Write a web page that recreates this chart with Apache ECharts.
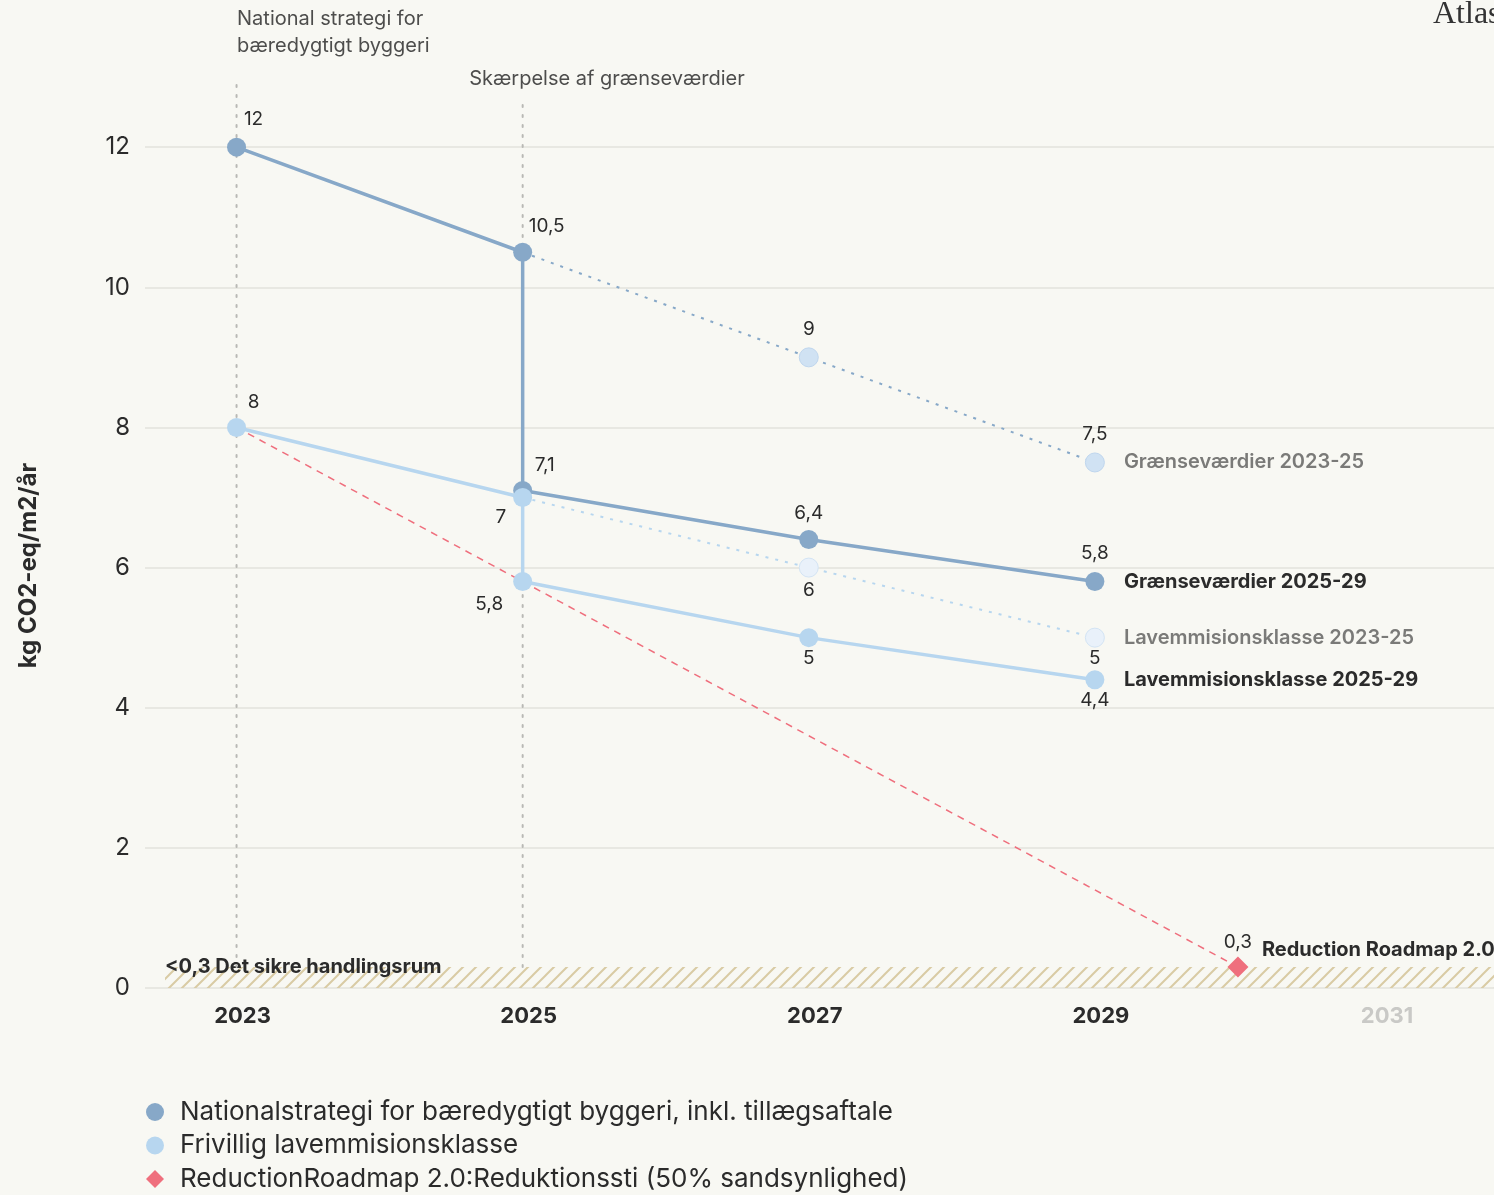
<!DOCTYPE html>
<html>
<head>
<meta charset="utf-8">
<script src="https://cdn.jsdelivr.net/npm/echarts@6/dist/echarts.min.js"></script>
<style>
html,body{margin:0;padding:0;background:#f8f8f3;}
#chart{width:1494px;height:1195px;}
</style>
</head>
<body>
<div id="chart"></div>
<script>
// ---------- DATA ----------
const xTickLabels = [2023, 2025, 2027, 2029, 2031];
const yTickValues = [0, 2, 4, 6, 8, 10, 12];

const nationalYears  = [2023, 2025, 2025, 2027, 2029];
const nationalValues = [12, 10.5, 7.1, 6.4, 5.8];

const graense2325Years  = [2025, 2027, 2029];
const graense2325Values = [10.5, 9, 7.5];

const frivilligYears  = [2023, 2025, 2025, 2027, 2029];
const frivilligValues = [8, 7, 5.8, 5, 4.4];

const lav2325Years  = [2025, 2027, 2029];
const lav2325Values = [7, 6, 5];

const roadmapYears  = [2023, 2030];
const roadmapValues = [8, 0.3];

const safeZoneLimit = 0.3;

const milestoneYears = [2023, 2025];
const milestoneTexts = ['National strategi for\nbæredygtigt byggeri', 'Skærpelse af grænseværdier'];

const seriesNames = [
  'Nationalstrategi for bæredygtigt byggeri, inkl. tillægsaftale',
  'Frivillig lavemmisionsklasse',
  'ReductionRoadmap 2.0:Reduktionssti (50% sandsynlighed)'
];
const endNames = ['Grænseværdier 2025-29', 'Grænseværdier 2023-25', 'Lavemmisionsklasse 2025-29', 'Lavemmisionsklasse 2023-25', 'Reduction Roadmap 2.0'];
const safeZoneText = '<0,3 Det sikre handlingsrum';

// ---------- STYLE ----------
const FONT = 'Inter, Roboto, "Noto Sans", sans-serif';
const DARK = '#87a8c8';
const LIGHT = '#b7d6ef';
const RED = '#ef6f7d';
const TXT = '#2b2b2b';
const SYM = 19;

const fmt = v => String(v).replace('.', ',');

function withLabels(xs, ys, placements) {
  return xs.map((x, i) => {
    const p = placements[i];
    const item = { value: [x, ys[i]] };
    if (p === null) {
      item.label = { show: false };
    } else {
      item.label = {
        show: true, position: p.pos, distance: p.d, offset: p.off || [0, 0],
        formatter: fmt(ys[i]), fontSize: 19, color: TXT, fontFamily: FONT
      };
    }
    return item;
  });
}

// hatch pattern
const hatch = document.createElement('canvas');
hatch.width = 13; hatch.height = 13;
(function () {
  const c = hatch.getContext('2d');
  c.strokeStyle = '#d9cba4';
  c.lineWidth = 2;
  c.beginPath();
  c.moveTo(-3, 16); c.lineTo(16, -3);
  c.moveTo(-16, 16); c.lineTo(3, -3);
  c.moveTo(10, 16); c.lineTo(29, -3);
  c.stroke();
})();

const chart = echarts.init(document.getElementById('chart'), null, { renderer: 'canvas' });

const option = {
  backgroundColor: '#f8f8f3',
  animation: false,
  textStyle: { fontFamily: FONT },
  title: {
    text: 'Atlas', left: 1428, top: -6,
    textStyle: { fontFamily: '"Liberation Serif", "DejaVu Serif", serif', fontWeight: 'normal', fontSize: 32, color: '#333' }
  },
  grid: { left: 145, right: 0, top: 7, bottom: 207 },
  xAxis: {
    type: 'value', min: 2022.36, max: 2031.79,
    axisLine: { show: false }, axisTick: { show: false }, splitLine: { show: false },
    axisLabel: {
      customValues: xTickLabels, margin: 17, padding: [0, 0, 0, 12],
      fontSize: 22, fontWeight: 'bold', color: TXT, fontFamily: FONT,
      formatter: v => v === 2031 ? '{g|' + v + '}' : String(v),
      rich: { g: { color: '#c9c9c6', fontSize: 22, fontWeight: 'bold', fontFamily: FONT } }
    }
  },
  yAxis: {
    type: 'value', min: 0, max: 14, interval: 2,
    name: 'kg CO2-eq/m2/år', nameLocation: 'middle', nameGap: 104,
    nameTextStyle: { fontSize: 24, fontWeight: 'bold', color: TXT, fontFamily: FONT, padding: [0, 136, 0, 0] },
    axisLine: { show: false }, axisTick: { show: false },
    axisLabel: {
      margin: 15, fontSize: 24, color: TXT, fontFamily: FONT,
      formatter: v => yTickValues.indexOf(v) >= 0 ? String(v) : ''
    },
    splitLine: { lineStyle: { color: ['#e8e8e2', '#e8e8e2', '#e8e8e2', '#e8e8e2', '#e8e8e2', '#e8e8e2', '#e8e8e2', 'rgba(0,0,0,0)'], width: 2 } }
  },
  legend: {
    orient: 'vertical', left: 146, top: 1099, itemGap: 7.5, padding: 0,
    itemWidth: 18, itemHeight: 18,
    textStyle: { fontSize: 26, lineHeight: 26, color: TXT, fontFamily: FONT, padding: [0, 0, 0, 11] },
    data: [
      { name: seriesNames[0], icon: 'circle' },
      { name: seriesNames[1], icon: 'circle' },
      { name: seriesNames[2], icon: 'diamond' }
    ]
  },
  series: [
    // milestone vertical dotted lines + texts
    {
      type: 'line', z: 1, symbol: 'none', silent: true,
      data: [[milestoneYears[0], safeZoneLimit], [milestoneYears[0], 12.93]],
      lineStyle: { color: '#b9b9b5', width: 2, type: [2, 8], cap: 'round' }
    },
    {
      type: 'line', z: 1, symbol: 'none', silent: true,
      data: [[milestoneYears[1], safeZoneLimit], [milestoneYears[1], 12.67]],
      lineStyle: { color: '#b9b9b5', width: 2, type: [2, 8], cap: 'round' }
    },
    {
      type: 'scatter', z: 1, silent: true, symbolSize: 1, itemStyle: { color: 'transparent' },
      data: [
        { value: [milestoneYears[0], 13.64], label: { show: true, position: 'right', distance: 0, formatter: milestoneTexts[0], lineHeight: 27, fontSize: 20, color: '#222', align: 'left', fontFamily: FONT } },
        { value: [milestoneYears[1], 12.97], label: { show: true, position: 'left', distance: 0, formatter: milestoneTexts[1], fontSize: 20, color: '#222', align: 'left', padding: [0, 0, 0, -53], fontFamily: FONT } }
      ]
    },
    // safe zone hatch
    {
      type: 'line', z: 1, data: [], silent: true,
      markArea: {
        silent: true,
        itemStyle: { color: { image: hatch, repeat: 'repeat' } },
        label: {
          show: true, position: [0, 0], verticalAlign: 'middle', align: 'left',
          formatter: safeZoneText, fontSize: 20, fontWeight: 'bold', color: TXT, fontFamily: FONT
        },
        data: [[{ xAxis: 2022.5, yAxis: 0 }, { xAxis: 2031.79, yAxis: safeZoneLimit }]]
      }
    },
    // roadmap
    {
      name: seriesNames[2], type: 'line', z: 2, color: RED,
      symbol: 'diamond', symbolSize: 21,
      lineStyle: { color: RED, width: 1.5, type: [7, 6] },
      itemStyle: { color: RED },
      data: withLabels(roadmapYears, roadmapValues, [null, { pos: 'top', d: 5, off: [0, 0] }]).map((d, i) => i === 0 ? Object.assign(d, { symbol: 'none' }) : d),
      endLabel: { show: true, formatter: endNames[4], distance: 24, offset: [0, -17], fontSize: 20, fontWeight: 'bold', color: TXT, fontFamily: FONT }
    },
    // graense 2023-25 dotted
    {
      type: 'line', z: 3, silent: true, symbol: 'circle', symbolSize: SYM,
      lineStyle: { color: DARK, width: 2, type: [3, 7] },
      itemStyle: { color: '#d0e2f3', borderColor: '#bfd6ee', borderWidth: 1 },
      data: withLabels(graense2325Years, graense2325Values, [null, { pos: 'top', d: 9 }, { pos: 'top', d: 9 }]).map((d, i) => i === 0 ? Object.assign(d, { symbol: 'none' }) : d),
      endLabel: { show: true, formatter: endNames[1], distance: 29, fontSize: 20, fontWeight: 600, color: '#7a7a78', fontFamily: FONT }
    },
    // lav 2023-25 dotted
    {
      type: 'line', z: 3, silent: true, symbol: 'circle', symbolSize: SYM,
      lineStyle: { color: LIGHT, width: 2, type: [3, 7] },
      itemStyle: { color: '#e9f1fa', borderColor: '#d3e4f4', borderWidth: 1 },
      data: withLabels(lav2325Years, lav2325Values, [null, { pos: 'bottom', d: 3 }, { pos: 'bottom', d: 1 }]).map((d, i) => i === 0 ? Object.assign(d, { symbol: 'none' }) : d),
      endLabel: { show: true, formatter: endNames[3], distance: 29, fontSize: 20, fontWeight: 600, color: '#7a7a78', fontFamily: FONT }
    },
    // national
    {
      name: seriesNames[0], type: 'line', z: 4, color: DARK,
      symbol: 'circle', symbolSize: SYM,
      lineStyle: { color: DARK, width: 3.5 },
      itemStyle: { color: DARK },
      data: withLabels(nationalYears, nationalValues, [
        { pos: 'top', d: 9, off: [17, 0] },
        { pos: 'top', d: 7, off: [24, 0] },
        { pos: 'top', d: 6, off: [22, 0] },
        { pos: 'top', d: 7 },
        { pos: 'top', d: 9 }
      ]),
      endLabel: { show: true, formatter: endNames[0], distance: 29, fontSize: 20, fontWeight: 'bold', color: TXT, fontFamily: FONT }
    },
    // frivillig
    {
      name: seriesNames[1], type: 'line', z: 5, color: LIGHT,
      symbol: 'circle', symbolSize: SYM,
      lineStyle: { color: LIGHT, width: 3.5 },
      itemStyle: { color: LIGHT },
      data: withLabels(frivilligYears, frivilligValues, [
        { pos: 'top', d: 6, off: [17, 0] },
        { pos: 'left', d: 7, off: [0, 20] },
        { pos: 'left', d: 7, off: [-3, 23] },
        { pos: 'bottom', d: 2 },
        { pos: 'bottom', d: 2 }
      ]),
      endLabel: { show: true, formatter: endNames[2], distance: 29, fontSize: 20, fontWeight: 'bold', color: TXT, fontFamily: FONT }
    }
  ]
};

chart.setOption(option);
</script>
</body>
</html>
